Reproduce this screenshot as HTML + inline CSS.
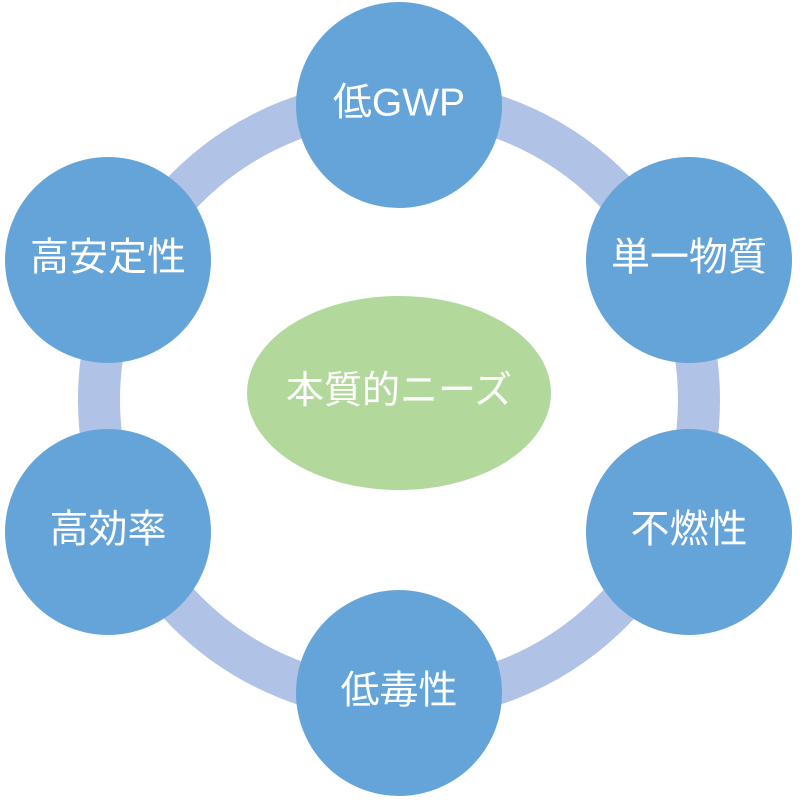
<!DOCTYPE html>
<html><head><meta charset="utf-8"><style>
html,body{margin:0;padding:0;background:#fff;}
svg text{font-family:"Liberation Sans","Noto Sans CJK JP",sans-serif;fill:#fff;text-anchor:middle;dominant-baseline:central;}
</style></head><body>
<svg width="800" height="800" viewBox="0 0 800 800" xmlns="http://www.w3.org/2000/svg">
<circle cx="399" cy="400" r="300" fill="none" stroke="#b0c2e6" stroke-width="42"/>
<g fill="#65a4d9">
<circle cx="399" cy="105" r="103"/>
<circle cx="689" cy="260" r="103"/>
<circle cx="689" cy="532" r="103"/>
<circle cx="399" cy="693" r="103"/>
<circle cx="108" cy="532" r="103"/>
<circle cx="108" cy="260" r="103"/>
</g>
<ellipse cx="399" cy="393" rx="152" ry="97" fill="#b3d89c"/>
<g font-size="39">
<text x="399" y="103">低GWP</text>
<text x="689" y="258">単一物質</text>
<text x="689" y="530">不燃性</text>
<text x="399" y="691">低毒性</text>
<text x="108" y="530">高効率</text>
<text x="108" y="258">高安定性</text>
</g>
<text x="399" y="391" font-size="38">本質的ニーズ</text>
</svg>
</body></html>
